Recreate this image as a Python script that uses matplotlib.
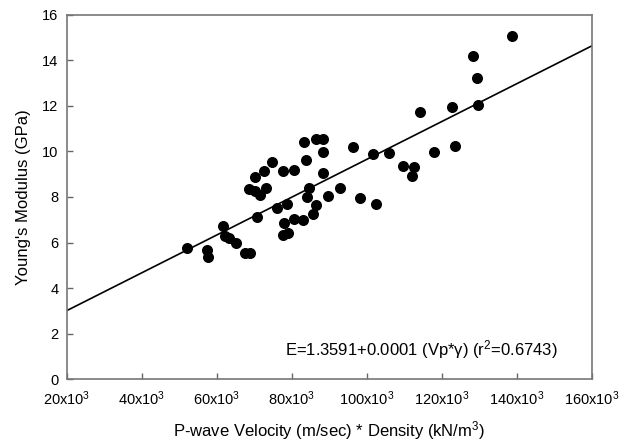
import numpy as np
import matplotlib
matplotlib.use('Agg')
import matplotlib.pyplot as plt

plt.rcParams['font.family'] = ['Liberation Sans', 'DejaVu Sans']
plt.rcParams['mathtext.fontset'] = 'custom'
plt.rcParams['mathtext.rm'] = 'Liberation Sans'
plt.rcParams['mathtext.it'] = 'Liberation Sans:italic'

# P-wave velocity * density (kN/m^3) and Young's modulus (GPa)
vp_gamma = [52000, 57300, 57700, 61600, 62100, 63400, 65200, 67600, 68900,
            70800, 68700, 70200, 71600, 73200, 70200, 72700, 74800, 76000,
            78800, 77700, 80700, 78000, 77700, 79000, 80700, 83100, 83300,
            86500, 88400, 88400, 83800, 84700, 84100, 88400, 86600, 85600,
            89600, 92900, 96400, 98200, 101600, 102600, 106000, 109800,
            112700, 112000, 118000, 123600, 114200, 122800, 129800, 128300,
            129300, 138800]
modulus = [5.75, 5.68, 5.36, 6.73, 6.31, 6.19, 6.00, 5.56, 5.56,
           7.11, 8.35, 8.26, 8.09, 8.38, 8.86, 9.13, 9.55, 7.51,
           7.69, 9.14, 9.18, 6.84, 6.33, 6.41, 7.04, 6.99, 10.39,
           10.56, 10.56, 9.99, 9.62, 8.38, 7.99, 9.04, 7.65, 7.25,
           8.04, 8.38, 10.19, 7.94, 9.87, 7.68, 9.94, 9.36,
           9.33, 8.92, 9.96, 10.25, 11.71, 11.96, 12.03, 14.20,
           13.20, 15.06]

intercept = 1.3591
slope = 8.29e-5
x_ticks = [20000, 40000, 60000, 80000, 100000, 120000, 140000, 160000]
y_ticks = [0, 2, 4, 6, 8, 10, 12, 14, 16]

fig = plt.figure(figsize=(6.33, 4.41), dpi=100)
ax = fig.add_axes([0.1054, 0.1395, 0.8294, 0.8276])

xs = np.array([20000, 160000])
ax.plot(xs, intercept + slope * xs, color='black', lw=1.2)
ax.scatter(vp_gamma, modulus, s=48, color='black', zorder=3)

ax.set_xlim(20000, 160000)
ax.set_ylim(0, 16)
ax.set_xticks(x_ticks)
ax.set_xticklabels([f'{t // 1000}x10$^{{3}}$' for t in x_ticks])
ax.set_yticks(y_ticks)
ax.tick_params(direction='in', length=4, width=1, color='#666666',
               labelsize=10.5)
ax.tick_params(axis='x', pad=7)
ax.tick_params(axis='y', pad=6)

for sp in ax.spines.values():
    sp.set_color('#777777')
    sp.set_linewidth(1.2)

ax.set_xlabel('P-wave Velocity (m/sec) * Density (kN/m$^{3}$)', fontsize=12, labelpad=8)
ax.set_ylabel("Young's Modulus (GPa)", fontsize=12, labelpad=8)

ax.text(0.935, 0.065, 'E=1.3591+0.0001 (Vp*\u03b3) (r$^{2}$=0.6743)',
        transform=ax.transAxes, ha='right', va='baseline', fontsize=12)

fig.savefig('out.png', dpi=100)
